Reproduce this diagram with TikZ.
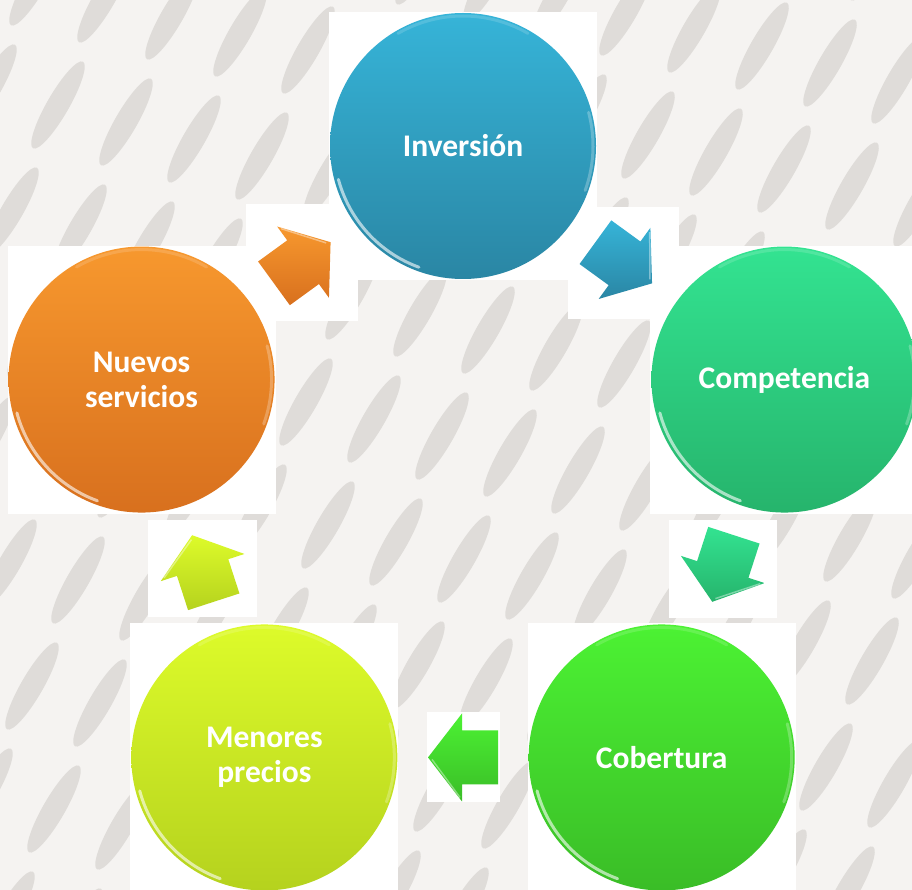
\documentclass[tikz,border=0pt]{standalone}
\usepackage{fontspec}
\setmainfont{Carlito}
\usetikzlibrary{calc,backgrounds}

\definecolor{fondo}{HTML}{F5F3F1}
\definecolor{manchas}{HTML}{DFDCD9}
\definecolor{azulA}{HTML}{36B4D8}
\definecolor{azulB}{HTML}{2A86A4}
\definecolor{turqA}{HTML}{33E391}
\definecolor{turqB}{HTML}{26B46C}
\definecolor{verdeA}{HTML}{4CF233}
\definecolor{verdeB}{HTML}{3ABD27}
\definecolor{limaA}{HTML}{DDFB2A}
\definecolor{limaB}{HTML}{B5D21E}
\definecolor{naranjaA}{HTML}{F7982E}
\definecolor{naranjaB}{HTML}{D8701E}

\tikzset{
  circulo/.style={circle,minimum size=266pt,inner sep=0pt,text=white,
    font=\fontsize{31.5}{35}\selectfont\bfseries,align=center},
  brillo/.style={white,line width=3pt,line cap=round}
}

% flecha de bloque entre dos circulos: #1 origen, #2 destino, #3 angulo, #4 y #5 colores
\newcommand{\flechaciclo}[5]{%
  \shade[top color=#4,bottom color=#5,shift={($(#1)!0.5!(#2)$)},rotate=#3]
    (-35,-27) -- (1,-27) -- (1,-44) -- (35,0) -- (1,44) -- (1,27) -- (-35,27) -- cycle;
  \draw[white,opacity=.4,line width=1.5pt,shift={($(#1)!0.5!(#2)$)},rotate=#3]
    (3,40) -- (31,2);
}

\begin{document}
\begin{tikzpicture}[x=1pt,y=1pt]
  % marco
  \useasboundingbox (0,0) rectangle (912,-890);
  \clip (0,0) rectangle (912,-890);

  % centro del ciclo
  \coordinate (centro) at (463,-484);

  % circulos
  \foreach \nom/\ang/\txt/\ca/\cb in {inv/90/Inversión/azulA/azulB,
      com/18/Competencia/turqA/turqB,
      cob/-54/Cobertura/verdeA/verdeB,
      men/-126/{Menores\\precios}/limaA/limaB,
      nue/162/{Nuevos\\servicios}/naranjaA/naranjaB}
    \node[circulo,top color=\ca,bottom color=\cb] (\nom) at ($(centro)+(\ang:338)$) {\txt};

  % brillos del borde
  \foreach \nom in {inv,com,cob,men,nue} {
    \draw[brillo,opacity=.6] ([shift={(195:129)}]\nom.center) arc (195:250:129);
    \draw[brillo,opacity=.15] ([shift={(60:130)}]\nom.center) arc (60:120:130);
    \draw[brillo,opacity=.25] ([shift={(-20:130)}]\nom.center) arc (-20:15:130);
  }

  % flechas
  \flechaciclo{nue}{inv}{36}{naranjaA}{naranjaB}
  \flechaciclo{inv}{com}{-36}{azulA}{azulB}
  \flechaciclo{com}{cob}{-108}{turqA}{turqB}
  \flechaciclo{cob}{men}{180}{verdeA}{verdeB}
  \flechaciclo{men}{nue}{108}{limaA}{limaB}

  \begin{scope}[on background layer]
    % fondo con manchas
    \fill[fondo] (0,0) rectangle (912,-890);
    \foreach \i in {-2,...,22}
      \foreach \j in {-1,...,10}
        \fill[manchas,shift={(14+68*\i-46*\j,141-17*\i-106*\j)},rotate=60]
          (0,0) ellipse (50 and 11);

    % cajas blancas de los circulos
    \foreach \nom in {inv,com,cob,men,nue}
      \fill[white] ($(\nom.center)+(-134,-134)$) rectangle ($(\nom.center)+(134,134)$);

    % cajas blancas de las flechas
    \foreach \a/\b/\w/\h in {nue/inv/112/117,inv/com/111/112,com/cob/108/98,
        cob/men/73/90,men/nue/109/97}
      \fill[white] ($(\a)!0.5!(\b)+(-\w/2,-\h/2)$) rectangle ($(\a)!0.5!(\b)+(\w/2,\h/2)$);
  \end{scope}
\end{tikzpicture}
\end{document}
